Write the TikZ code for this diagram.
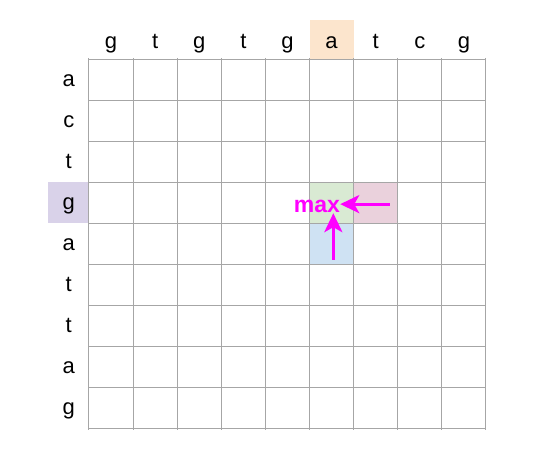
\documentclass[tikz,border=0pt]{standalone}
\usepackage{fontspec}
\setmainfont{Liberation Sans}
\usetikzlibrary{arrows.meta}

\definecolor{hdrorange}{HTML}{FCE5CD}
\definecolor{hdrpurple}{HTML}{D9D2E9}
\definecolor{cellgreen}{HTML}{D9EAD3}
\definecolor{cellpink}{HTML}{EAD1DC}
\definecolor{cellblue}{HTML}{CFE2F3}
\definecolor{gridgray}{HTML}{A6A6A6}
\definecolor{maxpink}{HTML}{FF00FF}

\begin{document}
\begin{tikzpicture}[x=44.1pt,y=-41pt,
  letter/.style={font=\fontsize{22}{24}\selectfont, inner sep=0pt, anchor=base},
  maxlabel/.style={font=\fontsize{23}{26}\selectfont\bfseries, text=maxpink, inner sep=0pt, anchor=base},
  maxarrow/.style={maxpink, line width=3.2pt, -{Stealth[length=19pt,width=18pt,inset=5pt]}}]
\useasboundingbox (-2.018,-1.439) rectangle (10.113,9.585);

\fill[hdrorange] (5,-0.95) rectangle (6,0);
\fill[hdrpurple] (-0.92,3) rectangle (0,4);

\fill[cellgreen] (5,3) rectangle (6,4);
\fill[cellpink] (6,3) rectangle (7,4);
\fill[cellblue] (5,4) rectangle (6,5);

\foreach \i in {0,...,9}
  \draw[gridgray, line width=1pt] (\i,-0.03) -- (\i,9.04) (0,\i) -- (9,\i);

\foreach \c [count=\i from 0] in {g,t,g,t,g,a,t,c,g}
  \node[letter] (top\i) at (\i+0.5,-0.26) {\c};
\foreach \c [count=\j from 0] in {a,c,t,g,a,t,t,a,g}
  \node[letter] (side\j) at (-0.458,\j+0.68) {\c};

\node[maxlabel] (max) at (5.17,3.75) {max};
\coordinate (fromright) at (6.825,3.54);
\coordinate (frombelow) at (5.54,4.9);

\draw[maxarrow] (fromright) -- (fromright -| max.east);
\draw[maxarrow] (frombelow) -- (frombelow |- max.south);
\end{tikzpicture}
\end{document}
